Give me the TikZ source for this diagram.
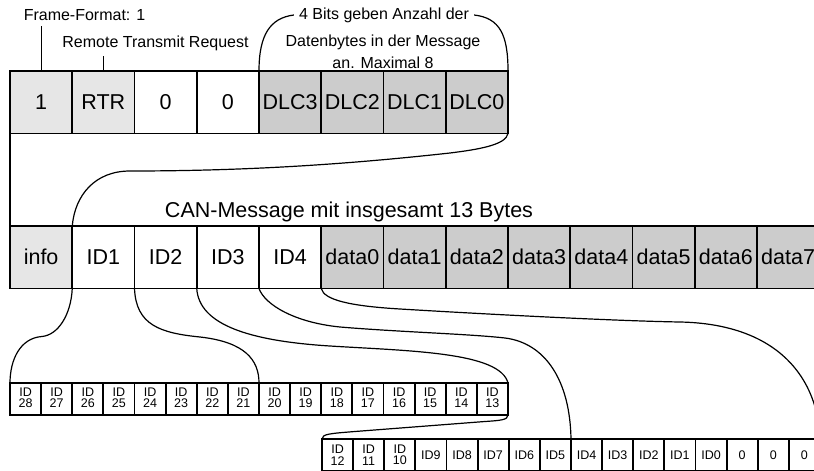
\documentclass[tikz,border=0pt]{standalone}
\usepackage{fontspec}
\setmainfont{Liberation Sans}
\definecolor{lg}{RGB}{230,230,230}
\definecolor{dg}{RGB}{204,204,204}
\tikzset{
  bigcell/.style={draw, line width=1.9pt, minimum width=62.25pt, minimum height=62.5pt,
    inner sep=0pt, outer sep=0pt, anchor=north west, font=\fontsize{21.5}{25}\selectfont},
  smallcell/.style={draw, line width=1.9pt, minimum width=31.125pt, minimum height=32pt,
    inner sep=0pt, outer sep=0pt, anchor=north west, align=center,
    font=\fontsize{12.5}{11.5}\selectfont},
  lgfill/.style={fill=lg},
  dgfill/.style={fill=dg},
  wfill/.style={fill=white},
  annot/.style={font=\fontsize{16}{19}\selectfont, inner sep=5pt},
  curve/.style={line width=1.2pt},
  stem/.style={line width=1.2pt},
}
\begin{document}
\begin{tikzpicture}[x=1pt,y=-1pt]
\path[use as bounding box] (0,0) rectangle (814,471);
\clip (0,0) rectangle (814,471);
\fill[white] (0,0) rectangle (814,471);

% top row
\foreach \t/\f [count=\i] in {1/lgfill,RTR/lgfill,0/wfill,0/wfill,DLC3/dgfill,DLC2/dgfill,DLC1/dgfill,DLC0/dgfill}
  \node[bigcell,\f] (t\i) at ({10+(\i-1)*62.25},71) {\t};

% middle row
\foreach \t/\f [count=\i] in {info/lgfill,ID1/wfill,ID2/wfill,ID3/wfill,ID4/wfill,data0/dgfill,data1/dgfill,data2/dgfill,data3/dgfill,data4/dgfill,data5/dgfill,data6/dgfill,data7/dgfill}
  \node[bigcell,\f] (m\i) at ({10+(\i-1)*62.25},226) {\t};

% bottom row 1
\foreach \i in {1,...,16}{
  \pgfmathtruncatemacro\n{29-\i}
  \node[smallcell] (a\i) at ({10+(\i-1)*31.125},383) {ID\\\n\rule[-3pt]{0pt}{0pt}};
}

% bottom row 2
\foreach \t [count=\i] in {{ID\\12},{ID\\11},{ID\\10},ID9,ID8,ID7,ID6,ID5,ID4,ID3,ID2,ID1,ID0,0,0,0}
  \node[smallcell] (b\i) at ({322+(\i-1)*31.125},439) {\t};

% annotations
\node[annot] (ff) at (84.5,15) {Frame-Format: 1};
\node[annot] (rtr) at (155.5,43) {Remote Transmit Request};
\node[annot] (dlcA) at (384,15) {4 Bits geben Anzahl der};
\node[annot] (dlcB) at (383,42) {Datenbytes in der Message};
\node[annot] (dlcC) at (383,63) {an. Maximal 8};
\node[font=\fontsize{21.5}{25}\selectfont] (can) at (349,212) {CAN-Message mit insgesamt 13 Bytes};

\draw[stem] (t1.north) -- (t1.north |- ff.south);
\draw[stem] (t2.north) -- (t2.north |- rtr.south);
\draw[curve] (t5.north west) .. controls (259,35) and (270,18) .. (dlcA.west);
\draw[curve] (dlcA.east) .. controls (500,18) and (508,35) .. (t8.north east);

% left side line
\draw[line width=1.9pt] (t1.south west) -- (m1.north west);

% DLC brace to ID1
\draw[curve] (t8.south east) .. controls (506,145) and (478,149.5) .. (450,153)
  .. controls (350,164) and (250,171) .. (130,171)
  .. controls (95,171) and (75,195) .. (m2.north west);

% ID1 -> ID28..21
\draw[curve] (m2.south west) .. controls (71,315) and (58,335) .. (42,336.5)
  .. controls (20,338) and (10,360) .. (a1.north west);
% ID2 -> ID20..13
\draw[curve] (m3.south west) .. controls (136,325) and (160,333) .. (200,337)
  .. controls (245,342) and (259,360) .. (a9.north west);
\draw[curve] (m4.south west) .. controls (199,325) and (250,341) .. (330,346)
  .. controls (410,351) and (500,352) .. (a16.north east);
% row wrap
\draw[curve] (a16.south east) .. controls (508,420) and (500,420.5) .. (485,421.5)
  -- (355,431.5) .. controls (330,433.5) and (322,434) .. (b1.north west);
% ID4 curve
\draw[curve] (m5.south west) .. controls (265,305) and (295,322.5) .. (340,327)
  .. controls (400,332) and (470,334) .. (505,338)
  .. controls (545,343) and (570,380) .. (b8.north east);
% data0 curve
\draw[curve] (m6.south west) .. controls (324,300) and (350,306) .. (400,309)
  .. controls (500,315) and (620,321) .. (680,322)
  .. controls (780,324) and (818,380) .. (b16.north east);
\end{tikzpicture}
\end{document}
